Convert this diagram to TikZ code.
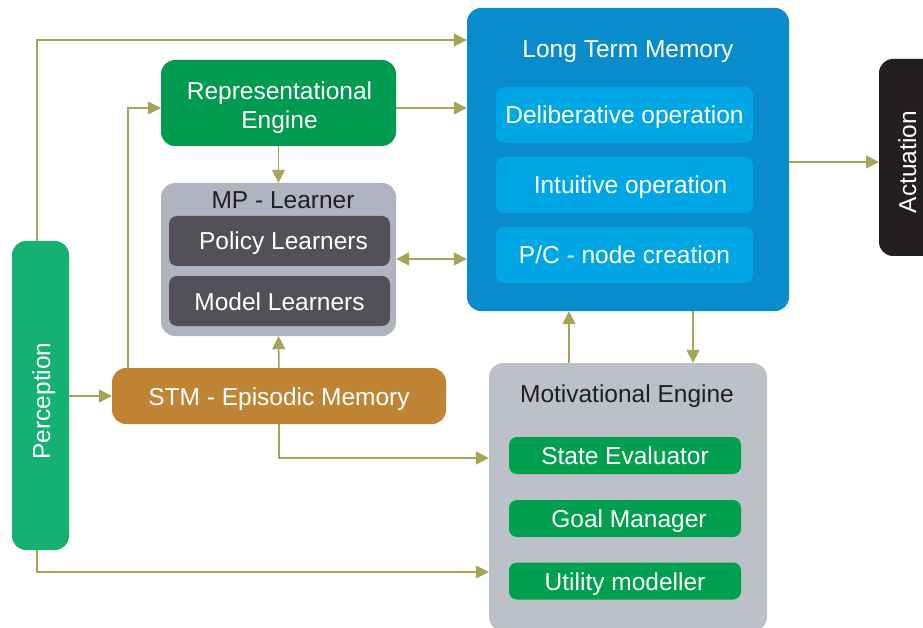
\documentclass[tikz,border=0pt]{standalone}
\usepackage{fontspec}
\setmainfont{Liberation Sans}
\usetikzlibrary{arrows.meta}
\definecolor{repgreen}{HTML}{009B4E}
\definecolor{percgreen}{HTML}{14B173}
\definecolor{stmorange}{HTML}{C08435}
\definecolor{mpgray}{HTML}{B0B3C0}
\definecolor{mpdark}{HTML}{535157}
\definecolor{ltmblue}{HTML}{0A8BCB}
\definecolor{ltminner}{HTML}{00A7E4}
\definecolor{megray}{HTML}{BCC0C7}
\definecolor{megreen}{HTML}{00A04F}
\definecolor{actblack}{HTML}{231F20}
\definecolor{arrowol}{HTML}{A8A457}
\definecolor{titledark}{HTML}{231F20}
\begin{document}
\begin{tikzpicture}[x=1pt,y=-1pt,
  fnt/.style={font=\fontsize{24.5}{29}\selectfont},
  box/.style={rectangle,rounded corners=14pt,inner sep=0pt,align=center,text=white,fnt,text depth=0pt},
  ibox/.style={rectangle,rounded corners=8pt,inner sep=0pt,align=center,text=white,fnt,text height=21pt,text depth=3pt},
  ttl/.style={inner sep=0pt,fnt,text height=21pt,text depth=3pt},
  arr/.style={draw=arrowol,line width=1.5pt,-{Triangle[length=13pt,width=13pt]}},
  darr/.style={draw=arrowol,line width=1.5pt,{Triangle[length=13pt,width=13pt]}-{Triangle[length=13pt,width=13pt]}}]
\clip (0,0) rectangle (923,628);
\fill[white] (0,0) rectangle (923,628);

% Long Term Memory
\node[box,fill=ltmblue,minimum width=322pt,minimum height=303pt] (ltm) at (628,159.5) {};
\node[ttl,text=white] (ltmt) at (628,49) {Long Term Memory};
\node[ibox,fill=ltminner,minimum width=257pt,minimum height=56pt] (delib) at (624.5,115) {Deliberative operation};
\node[ibox,fill=ltminner,minimum width=257pt,minimum height=56pt] (intu) at (624.5,185) {\hspace{12pt}Intuitive operation};
\node[ibox,fill=ltminner,minimum width=257pt,minimum height=56pt] (pc) at (624.5,255) {P/C - node creation};

% Actuation
\node[box,fill=actblack,minimum width=84pt,minimum height=197pt] (act) at (921,157.5) {};
\node[ttl,text=white,rotate=90] (actt) at (907,162) {Actuation};

% Representational Engine
\node[box,fill=repgreen,minimum width=235pt,minimum height=86pt] (rep) at (278.5,103) {};
\node[ttl,text=white,align=center] (rept1) at (279.5,91) {Representational};
\node[ttl,text=white,align=center] (rept2) at (279.5,120) {Engine};

% MP - Learner
\node[box,fill=mpgray,minimum width=235pt,minimum height=153pt] (mp) at (278.5,259.5) {};
\node[ttl,text=titledark] (mpt) at (283,200) {MP - Learner};
\node[ibox,fill=mpdark,minimum width=221pt,minimum height=50pt] (pol) at (279.5,241) {\hspace{8pt}Policy Learners};
\node[ibox,fill=mpdark,minimum width=221pt,minimum height=50pt] (mod) at (279.5,301) {Model Learners};

% Perception
\node[box,fill=percgreen,minimum width=57pt,minimum height=309pt] (perc) at (40.5,395.5) {};
\node[ttl,text=white,rotate=90] (perct) at (41,401) {Perception};

% STM
\node[box,fill=stmorange,minimum width=334pt,minimum height=56pt] (stm) at (279,396) {};
\node[ttl,text=white] (stmt) at (279,396) {STM - Episodic Memory};

% Motivational Engine
\node[box,fill=megray,minimum width=278pt,minimum height=268pt] (me) at (628,497) {};
\node[ttl,text=titledark] (met) at (627,393) {Motivational Engine};
\node[ibox,fill=megreen,minimum width=232pt,minimum height=37pt] (state) at (625,455.5) {State Evaluator};
\node[ibox,fill=megreen,minimum width=232pt,minimum height=37pt] (goal) at (625,518.5) {\hspace{8pt}Goal Manager};
\node[ibox,fill=megreen,minimum width=232pt,minimum height=37pt] (util) at (625,581) {Utility modeller};

% connectors
\coordinate (c1) at (37,241);
\draw[arr] (c1) |- (ltm.west |- 0,40);
\coordinate (c2) at (128,368);
\draw[arr] (c2) |- (rep.west |- 0,108);
\draw[arr] (rep.east |- 0,108) -- (ltm.west |- 0,108);
\draw[arr] (rep.south) -- (mp.north);
\draw[darr] (mp.east |- 0,259) -- (ltm.west |- 0,259);
\draw[arr] (ltm.east |- 0,162) -- (act.west |- 0,162);
\draw[arr] (perc.east |- 0,396) -- (stm.west);
\draw[arr] (stm.north) -- (mp.south);
\draw[arr] (stm.south) |- (me.west |- 0,458);
\coordinate (c3) at (37,550);
\draw[arr] (c3) |- (me.west |- 0,572);
\draw[arr] (me.north -| 569,0) -- (ltm.south -| 569,0);
\draw[arr] (ltm.south -| 693,0) -- (me.north -| 693,0);
\end{tikzpicture}
\end{document}
